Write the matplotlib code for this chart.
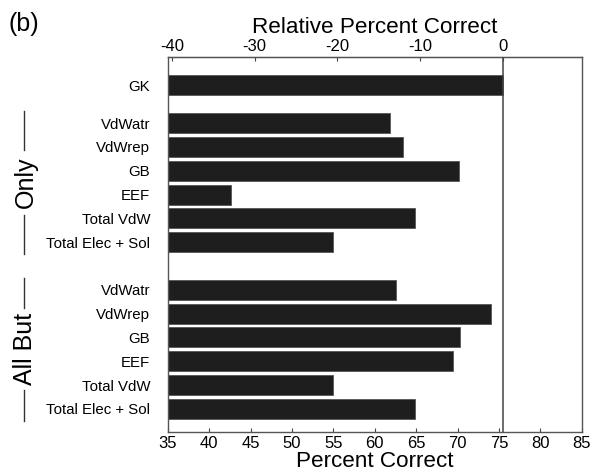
import matplotlib
matplotlib.use("Agg")
import matplotlib.pyplot as plt
from matplotlib.lines import Line2D

plt.rcParams['font.family'] = ['Liberation Sans', 'DejaVu Sans']
plt.rcParams['axes.unicode_minus'] = False

# Reference term and its score
ref_label = "GK"
ref_value = 75.5

# Terms used alone
only_labels = ["VdWatr", "VdWrep", "GB", "EEF", "Total VdW", "Total Elec + Sol"]
only_values = [61.9, 63.4, 70.2, 42.7, 64.9, 55.0]

# All terms except one
allbut_labels = ["VdWatr", "VdWrep", "GB", "EEF", "Total VdW", "Total Elec + Sol"]
allbut_values = [62.6, 74.1, 70.3, 69.5, 55.0, 64.9]

bottom_ticks = [35, 40, 45, 50, 55, 60, 65, 70, 75, 80, 85]
top_ticks = [-40, -30, -20, -10, 0]

# Row layout: reference row, gap, first group, gap, second group
gap_after_ref = 1.6
gap_between = 2.0
pos_ref = 0.0
pos_only = [pos_ref + gap_after_ref + i for i in range(len(only_labels))]
pos_allbut = [pos_only[-1] + gap_between + i for i in range(len(allbut_labels))]

positions = [pos_ref] + pos_only + pos_allbut
labels = [ref_label] + only_labels + allbut_labels
values = [ref_value] + only_values + allbut_values

x0 = bottom_ticks[0]

fig = plt.figure(figsize=(5.93, 4.73), dpi=100)
ax = fig.add_axes([0.2828, 0.0873, 0.6982, 0.7927])

bar_color = "#1e1e1e"
ax.barh(positions, [v - x0 for v in values], left=x0, height=0.84,
        color=bar_color, edgecolor="#555555", linewidth=0.6, zorder=2)

ax.axvline(ref_value, color="#444444", linewidth=1.1, zorder=3)

ax.set_xlim(35, 85)
ax.set_ylim(pos_allbut[-1] + 0.96, pos_ref - 1.19)
ax.set_yticks(positions)
ax.set_yticklabels(labels, fontsize=10.8)
ax.tick_params(axis="y", length=0, pad=12.5)
ax.set_xticks(bottom_ticks)
ax.tick_params(axis="x", direction="in", length=3, labelsize=12, pad=3,
               color="#444444")
ax.set_xlabel("Percent Correct", fontsize=16.2, labelpad=0)

for s in ax.spines.values():
    s.set_color("#555555")
    s.set_linewidth(1.0)

top = ax.secondary_xaxis("top", functions=(lambda x: x - ref_value,
                                           lambda r: r + ref_value))
top.set_xticks(top_ticks)
top.tick_params(direction="in", length=3, labelsize=12, pad=2, color="#444444")
top.set_xlabel("Relative Percent Correct", fontsize=16.2, labelpad=4)

# Group brackets on the left: rotated label with lines above and below
def group_label(text, y_first, y_last, text_len_px):
    disp = ax.transData
    inv = fig.transFigure.inverted()
    _, ytop = inv.transform(disp.transform((35, y_first - 0.5)))
    _, ybot = inv.transform(disp.transform((35, y_last + 0.5)))
    xc = 24 / 593
    ymid = (ytop + ybot) / 2
    half = (text_len_px / 2 + 5) / 473
    fig.text(xc + 1.5 / 593, ymid, text, rotation=90, ha="center", va="center",
             fontsize=18)
    fig.add_artist(Line2D([xc, xc], [ytop, ymid + half], color="#333333",
                          linewidth=1.0))
    fig.add_artist(Line2D([xc, xc], [ymid - half, ybot], color="#333333",
                          linewidth=1.0))

group_label("Only", pos_only[0], pos_only[-1], 55)
group_label("All But", pos_allbut[0], pos_allbut[-1], 72)

fig.text(8 / 593, 1 - 24 / 473, "(b)", fontsize=18, ha="left", va="center")

fig.savefig("out.png", dpi=100)
